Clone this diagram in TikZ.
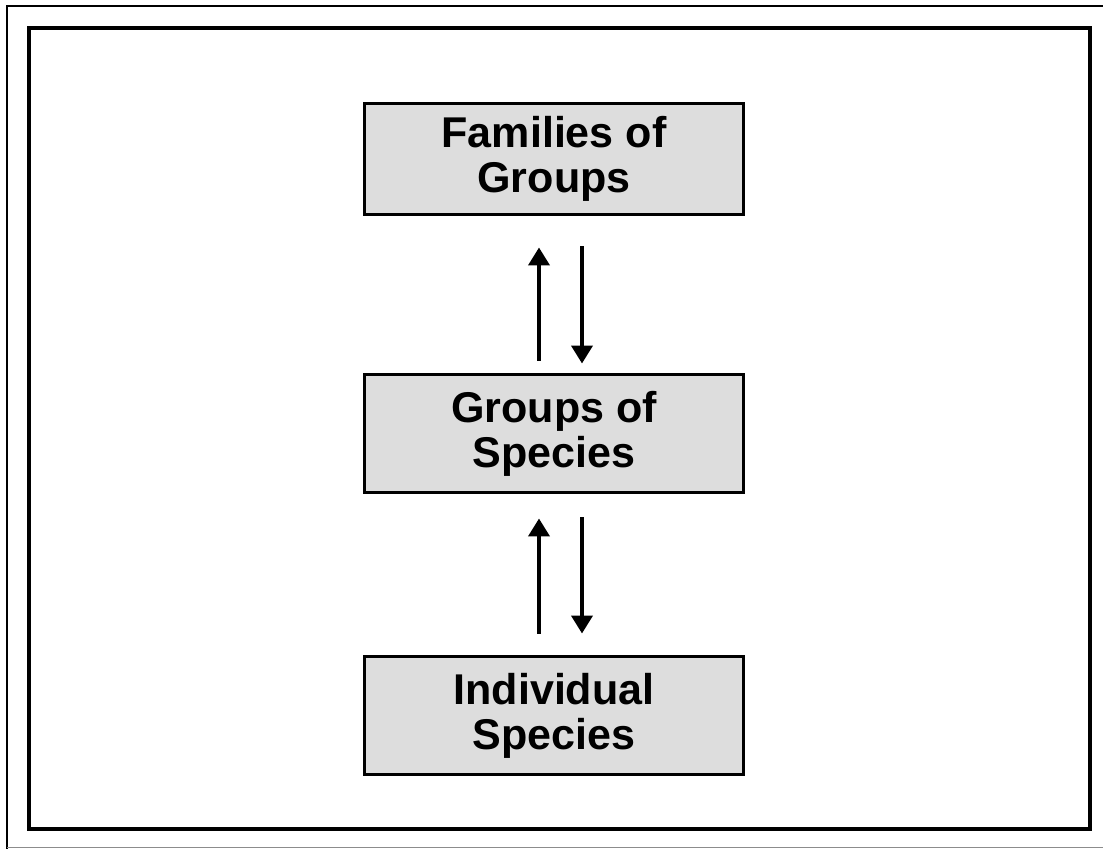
\documentclass[tikz,border=0pt]{standalone}
\usepackage{fontspec}
\setmainfont{Liberation Sans}
\usetikzlibrary{arrows.meta}

\tikzset{
	levelbox/.style={draw=black, line width=0.06cm, fill=boxgray, minimum width=7.6cm, minimum height=2.38cm, align=center, inner sep=0pt, font=\bfseries\fontsize{24.5}{25.5}\selectfont},
	flow/.style={line width=0.08cm, -{Triangle[length=0.36cm,width=0.42cm]}}
}
\definecolor{boxgray}{RGB}{221,221,221}

\begin{document}
\begin{tikzpicture}[x=0.02cm, y=-0.02cm]
			%%%%% START %%%%%
			\useasboundingbox (0, 0) rectangle (1103, 849);
			
			\draw[line width=0.04cm] (7, 849) -- (7, 6) -- (1103, 6);
			\draw[line width=0.02cm, color=black!45] (7, 847) -- (1103, 847);
			\draw[line width=0.07cm] (29, 28) rectangle (1090, 829);
			
			\node[levelbox, minimum height=2.24cm] (families) at (554, 159) {Families of\\Groups};
			\node[levelbox] (groups) at (554, 433.5) {Groups of\\Species};
			\node[levelbox] (individual) at (554, 715.5) {Individual\\Species};
			
			\draw[flow] ([xshift=-0.3cm, yshift=0.24cm]groups.north) -- ([xshift=-0.3cm, yshift=-0.62cm]families.south);
			\draw[flow] ([xshift=0.56cm, yshift=-0.6cm]families.south) -- ([xshift=0.56cm, yshift=0.18cm]groups.north);
			
			\draw[flow] ([xshift=-0.3cm, yshift=0.42cm]individual.north) -- ([xshift=-0.3cm, yshift=-0.48cm]groups.south);
			\draw[flow] ([xshift=0.56cm, yshift=-0.46cm]groups.south) -- ([xshift=0.56cm, yshift=0.42cm]individual.north);
			
			%%%%% END %%%%%
\end{tikzpicture}
\end{document}
